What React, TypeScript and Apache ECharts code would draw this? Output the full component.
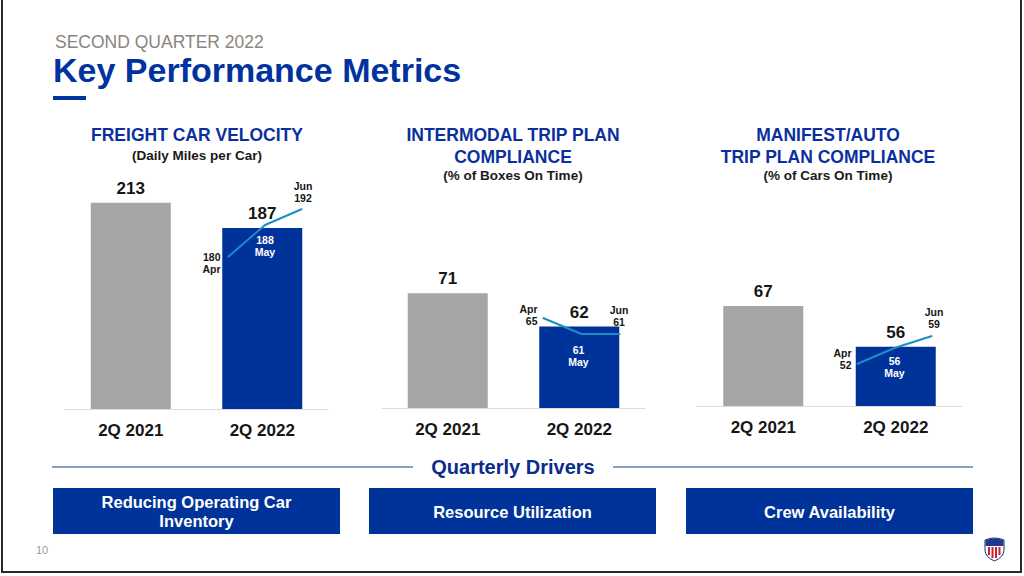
import React, { useEffect, useRef } from "react";
import * as echarts from "echarts";

// ---------- data ----------
const categories = ["2Q 2021", "2Q 2022"];
const months = ["Apr", "May", "Jun"];
const velocityQuarterly = [213, 187];
const velocityMonthly = [180, 188, 192];
const intermodalQuarterly = [71, 62];
const intermodalMonthly = [65, 61, 61];
const manifestQuarterly = [67, 56];
const manifestMonthly = [52, 56, 59];
const chartTitles = [
  "FREIGHT CAR VELOCITY",
  "INTERMODAL TRIP PLAN\nCOMPLIANCE",
  "MANIFEST/AUTO\nTRIP PLAN COMPLIANCE",
];
const chartSubtitles = ["(Daily Miles per Car)", "(% of Boxes On Time)", "(% of Cars On Time)"];
const drivers = ["Reducing Operating Car\nInventory", "Resource Utilization", "Crew Availability"];
const pageTitle = "Key Performance Metrics";
const pageKicker = "SECOND QUARTER 2022";
const sectionTitle = "Quarterly Drivers";
const pageNumber = "10";

// ---------- styles ----------
const BLUE = "#00339a";
const GRAY = "#a6a6a6";
const LINE = "#1f8cc6";
const TXT = "#161616";
const SANS = "'Liberation Sans', Arial, sans-serif";

const quarterly = [velocityQuarterly, intermodalQuarterly, manifestQuarterly];
const monthly = [velocityMonthly, intermodalMonthly, manifestMonthly];

// bar grids (layout)
const barGrids = [
  { left: 65, width: 263, top: 167, height: 242, min: 0, max: 250 },
  { left: 382, width: 263, top: 186, height: 222, min: 40, max: 100 },
  { left: 697, width: 265, top: 184, height: 222, min: 40, max: 100 },
];
// line overlay grids (layout)
const lineGrids = [
  { left: 228, width: 74, top: 177, height: 120, min: 170, max: 200 },
  { left: 543, width: 77, top: 298, height: 80, min: 50, max: 70 },
  { left: 857, width: 75, top: 292, height: 120, min: 40, max: 70 },
];
// label placements for Apr / May / Jun in each chart
const labelPlacement = [
  [
    { position: "left", distance: 7, offset: [0, 6], fmt: "{c}\n{b}" },
    { position: "bottom", distance: 8, offset: [0, 0], fmt: "{c}\n{b}", white: true },
    { position: "top", distance: 5, offset: [1, 0], fmt: "{b}\n{c}" },
  ],
  [
    { position: "left", distance: 5, offset: [0, -3], fmt: "{b}\n{c}" },
    { position: "bottom", distance: 9, offset: [-3, 0], fmt: "{c}\n{b}", white: true },
    { position: "top", distance: 6, offset: [-1, 0], fmt: "{b}\n{c}" },
  ],
  [
    { position: "left", distance: 5, offset: [0, -5], fmt: "{b}\n{c}" },
    { position: "bottom", distance: 6, offset: [0, 0], fmt: "{c}\n{b}", white: true },
    { position: "top", distance: 6, offset: [2, 0], fmt: "{b}\n{c}" },
  ],
];

function buildOption() {
  const grid: any[] = [];
  const xAxis: any[] = [];
  const yAxis: any[] = [];
  const series: any[] = [];

  barGrids.forEach((g, k) => {
    grid.push({ left: g.left, width: g.width, top: g.top, height: g.height });
    xAxis.push({
      type: "category",
      gridIndex: k,
      data: categories,
      axisLine: { lineStyle: { color: "#dcdcdc", width: 1 } },
      axisTick: { show: false },
      axisLabel: { color: TXT, fontSize: 17, fontWeight: "bold", fontFamily: SANS, margin: 13 },
    });
    yAxis.push({ type: "value", gridIndex: k, min: g.min, max: g.max, show: false, splitLine: { show: false } });
  });
  lineGrids.forEach((g, k) => {
    grid.push({ left: g.left, width: g.width, top: g.top, height: g.height });
    xAxis.push({ type: "category", gridIndex: 3 + k, data: months, boundaryGap: false, show: false });
    yAxis.push({ type: "value", gridIndex: 3 + k, min: g.min, max: g.max, show: false, splitLine: { show: false } });
  });

  quarterly.forEach((vals, k) => {
    series.push({
      type: "bar",
      xAxisIndex: k,
      yAxisIndex: k,
      barWidth: 80,
      data: vals.map((v, i) => ({ value: v, itemStyle: { color: i === 0 ? GRAY : BLUE } })),
      label: {
        show: true,
        position: "top",
        distance: 6,
        color: TXT,
        fontSize: 17,
        fontWeight: "bold",
        fontFamily: SANS,
      },
    });
  });

  monthly.forEach((vals, k) => {
    series.push({
      type: "line",
      xAxisIndex: 3 + k,
      yAxisIndex: 3 + k,
      symbol: "circle",
      symbolSize: 1,
      itemStyle: { color: LINE },
      lineStyle: { color: LINE, width: 2 },
      z: 5,
      data: vals.map((v, i) => {
        const p: any = labelPlacement[k][i];
        return {
          value: v,
          label: {
            show: true,
            position: p.position,
            distance: p.distance,
            offset: p.offset,
            formatter: p.fmt,
            color: p.white ? "#ffffff" : TXT,
            fontSize: 10.5,
            lineHeight: 12,
            fontWeight: "bold",
            fontFamily: SANS,
          },
        };
      }),
    });
  });

  const graphic: any[] = [];
  // frame
  graphic.push({
    type: "polyline",
    shape: { points: [[2, 0], [2, 572], [1021, 572], [1021, 0]] },
    style: { stroke: "#2a2a2a", lineWidth: 2, fill: null },
    silent: true,
  });
  // header
  graphic.push({
    type: "text",
    style: { text: pageKicker, x: 55, y: 42, fill: "#8a8580", fontSize: 17.5, fontFamily: SANS, textVerticalAlign: "middle" },
  });
  graphic.push({
    type: "text",
    style: { text: pageTitle, x: 53, y: 70, fill: "#0033a0", fontSize: 34, fontWeight: "bold", fontFamily: SANS, textVerticalAlign: "middle" },
  });
  graphic.push({ type: "rect", shape: { x: 53, y: 96, width: 33, height: 4 }, style: { fill: "#0033a0" } });

  // chart titles
  const centers = [197, 513, 828];
  chartTitles.forEach((t, k) => {
    const lines = t.split("\n").length;
    graphic.push({
      type: "text",
      style: {
        text: t, x: centers[k], y: 124, fill: "#0b2f9e", fontSize: 17.5, fontWeight: "bold",
        fontFamily: SANS, lineHeight: 22, textAlign: "center", textVerticalAlign: "top",
      },
    });
    graphic.push({
      type: "text",
      style: {
        text: chartSubtitles[k], x: centers[k], y: 135 + lines * 20 - (lines - 1) * 0, fill: "#1a1a1a", fontSize: 13.5,
        fontWeight: "bold", fontFamily: SANS, textAlign: "center", textVerticalAlign: "middle",
      },
    });
  });

  // quarterly drivers
  graphic.push({ type: "line", shape: { x1: 52, y1: 467, x2: 413, y2: 467 }, style: { stroke: "#1f3c8f", lineWidth: 1.2 } });
  graphic.push({ type: "line", shape: { x1: 613, y1: 467, x2: 973, y2: 467 }, style: { stroke: "#1f3c8f", lineWidth: 1.2 } });
  graphic.push({
    type: "text",
    style: { text: sectionTitle, x: 513, y: 467, fill: "#0b2c8c", fontSize: 20, fontWeight: "bold", fontFamily: SANS, textAlign: "center", textVerticalAlign: "middle" },
  });
  const boxX = [53, 369, 686];
  drivers.forEach((d, k) => {
    graphic.push({ type: "rect", shape: { x: boxX[k], y: 488, width: 287, height: 46 }, style: { fill: BLUE } });
    graphic.push({
      type: "text",
      style: {
        text: d, x: boxX[k] + 143.5, y: 511.5, fill: "#ffffff", fontSize: 16.5, fontWeight: "bold",
        fontFamily: SANS, lineHeight: 19, textAlign: "center", textVerticalAlign: "middle",
      },
    });
  });
  graphic.push({
    type: "text",
    style: { text: pageNumber, x: 42, y: 550, fill: "#9a9a9a", fontSize: 11, fontFamily: SANS, textAlign: "center", textVerticalAlign: "middle" },
  });

  // logo shield
  graphic.push({
    type: "shield",
    x: 985, y: 537, scaleX: 1, scaleY: 1,
    style: { fill: "#ffffff", stroke: "#1d2f7a", lineWidth: 1 },
  });
  graphic.push({
    type: "shieldTop",
    x: 985, y: 537, scaleX: 1, scaleY: 1,
    style: { fill: "#1d3c91" },
  });
  [3, 6.5, 10, 13.5].forEach((sx, i) => {
    const h = i === 0 || i === 3 ? 8 : 11;
    graphic.push({ type: "rect", shape: { x: 985 + sx, y: 547, width: 2, height: h }, style: { fill: "#c8202f" } });
  });

  return { animation: false, backgroundColor: "#ffffff", grid, xAxis, yAxis, series, graphic };
}

let registered = false;
function registerShapes() {
  if (registered) return;
  registered = true;
  echarts.graphic.registerShape(
    "shield",
    echarts.graphic.extendPath("M0 3 Q9.5 -1 19 3 L19 13 Q19 20 9.5 24 Q0 20 0 13 Z", {})
  );
  echarts.graphic.registerShape(
    "shieldTop",
    echarts.graphic.extendPath("M0.5 3.3 Q9.5 -0.6 18.5 3.3 L18.5 9 L0.5 9 Z", {})
  );
}

export default function App() {
  const ref = useRef<HTMLDivElement>(null);
  useEffect(() => {
    registerShapes();
    const chart = echarts.init(ref.current!, null, { renderer: "svg" });
    chart.setOption(buildOption());
    return () => chart.dispose();
  }, []);
  return (
    <div
      ref={ref}
      style={{ position: "fixed", left: 0, top: 0, width: 1024, height: 576, background: "#fff" }}
    />
  );
}
